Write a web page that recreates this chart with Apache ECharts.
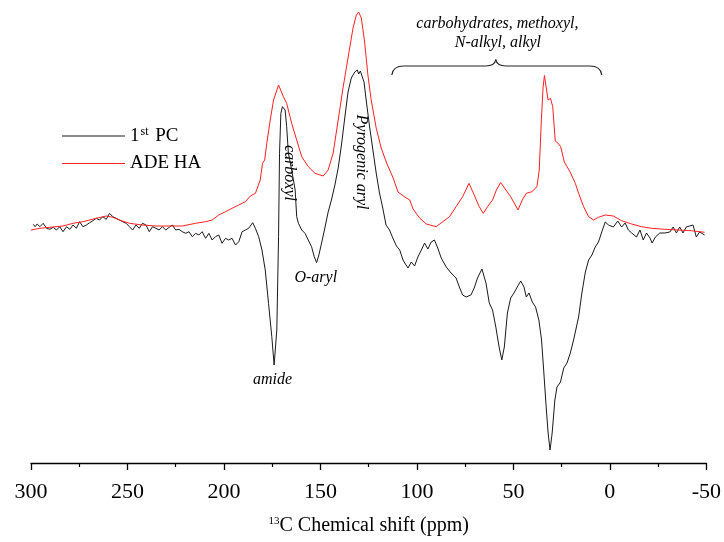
<!DOCTYPE html>
<html>
<head>
<meta charset="utf-8">
<script src="https://cdn.jsdelivr.net/npm/echarts@6/dist/echarts.min.js"></script>
<style>
  html, body { margin: 0; padding: 0; background: #ffffff; }
  #chart { width: 724px; height: 542px; }
</style>
</head>
<body>
<div id="chart"></div>
<script>
// ---- Data (x: 13C chemical shift, ppm; y: relative intensity) ----
const pcShift = [
  298.8,297.9,296.8,295.4,293.7,291.9,290.2,288.5,286.8,285.1,
  283.4,281.6,279.9,278.2,276.5,274.8,273.1,271.3,269.6,267.9,
  266.2,264.5,262.8,261.0,259.3,257.6,255.9,254.2,252.5,250.7,
  249.0,247.3,245.6,243.9,242.2,240.4,238.7,237.0,235.3,233.6,
  231.9,230.1,228.4,226.7,225.0,223.3,221.6,219.8,218.1,216.4,
  214.7,213.0,211.3,209.5,207.8,206.1,204.4,202.7,201.0,199.2,
  197.5,195.8,194.0,192.3,190.6,188.9,187.2,185.1,183.7,182.0,
  180.3,178.6,176.9,175.2,174.0,172.6,171.7,171.2,170.5,169.7,
  168.3,167.5,166.6,164.9,163.1,162.3,161.4,159.7,158.0,156.3,
  154.6,153.2,152.0,150.8,149.4,147.7,146.0,144.3,142.5,140.8,
  139.1,137.4,135.7,134.0,132.2,130.9,130.2,129.3,128.3,127.4,
  126.3,124.5,122.8,121.1,119.4,117.7,116.0,114.2,112.5,110.6,
  108.9,107.2,106.3,104.6,102.9,101.2,99.5,97.7,96.0,94.3,
  92.6,90.9,89.2,87.4,84.8,82.3,79.7,78.0,76.3,74.5,
  72.0,70.3,68.6,66.3,64.2,62.5,60.8,59.1,57.4,56.0,
  54.7,53.1,51.4,49.7,48.0,46.2,44.5,43.3,41.9,40.2,
  38.5,36.8,35.4,34.2,33.0,32.0,31.0,29.9,28.5,27.4,
  25.6,23.9,22.2,20.5,18.8,16.2,14.5,12.7,11.0,9.3,
  7.6,5.9,4.2,2.4,0.7,-1.8,-4.1,-6.1,-7.9,-9.6,
  -11.3,-13.8,-15.6,-17.3,-19.0,-20.8,-21.9,-23.6,-25.9,-28.5,
  -31.1,-32.8,-34.5,-36.2,-37.9,-39.6,-41.4,-43.1,-44.8,-46.5,-49.1
];
const pcIntensity = [
  5.7,3.3,6,3.3,6.7,1.7,0.7,2.7,0,3.3,
  -1.7,3.3,0.7,5,1.7,8.3,3.3,5,7.3,9.3,
  11.7,10,13.3,10.7,16.7,13.3,11.7,10,8.3,6.7,
  3.3,0,5,1.7,6.7,5,-1.7,3.3,1.7,0,
  3.3,0,2.7,5,0,0.7,-1.7,-3.3,-1.7,-6.7,
  -3.3,-5,-1.7,-8.3,-3.3,-10,-6.7,-5,-13.3,-8.3,
  -10,-8.3,-15,-11.7,-1.7,0,1.7,7.3,1.7,-6.7,
  -20,-40,-73.3,-106.7,-135,-100,-6.7,76.7,116.7,123.3,
  120,103.3,76.7,60,40,13.3,6.7,0,-3.3,-10,
  -16.7,-26.7,-32.7,-25,-13,2,18,30,45,62,
  85,112,138,152,158,160,156,159,153,148,
  130,103,80,57,37,22,5,0,-8,-16,
  -20,-30,-33,-38,-32,-36,-27,-20,-13,-19,
  -12,-10,-18,-28,-37,-43,-48,-57,-65,-67,
  -65,-58,-48,-39,-53,-73,-80,-97,-117,-130,
  -117,-83,-68,-63,-57,-51,-57,-67,-63,-72,
  -77,-90,-110,-143,-177,-203,-220,-203,-170,-157,
  -152,-138,-133,-123,-110,-87,-63,-42,-30,-25,
  -17,-12,-2,8,5,3,9,3,7,0,
  -3,-7,0,-10,-3,-8,-13,-7,-3,-3,
  -2,3,-3,3,-3,3,4,5,-7,-2,-5
];
const haShift = [
  300,295.4,290.2,283.4,278.2,273.1,266.2,261.0,257.6,254.2,
  249.0,242.2,235.3,228.4,221.6,214.7,209.5,206.1,202.7,199.2,
  195.8,192.3,188.9,186.3,183.7,181.2,180.0,178.9,177.8,176.0,
  174.3,171.7,169.2,167.5,164.9,162.3,159.7,156.3,152.8,148.6,
  146.0,143.4,140.8,138.3,135.7,133.1,131.4,130.2,128.8,127.1,
  125.4,123.7,121.1,118.5,115.7,112.3,109.8,106.3,103.7,102.0,
  98.6,95.1,90.0,86.6,83.1,79.7,76.3,73.0,70.3,67.7,
  65.6,63.4,60.8,58.8,56.6,53.9,51.4,47.6,45.4,43.3,
  40.4,37.8,36.6,35.5,34.6,33.9,32.8,32.0,30.8,29.6,
  28.3,26.8,25.5,23.6,22.2,20.6,17.9,16.2,13.6,11.0,
  8.5,5.9,2.4,-1.8,-6.1,-11.3,-16.4,-21.6,-28.5,-35.3,-42.2,-49.1
];
const haIntensity = [
  0,1.7,2.7,4,6.7,8.3,11.7,14,12.7,10,
  6.7,5,4,4,4,6.7,8.3,10,15,18.3,
  21.7,25,28.3,34,36.7,50,66.7,70,86.7,110,
  130,145,133.3,126.7,106.7,90,73.3,63.3,56.7,54,
  60,77,110,142,172,202,215,218,212,188,
  155,130,102,82,67,52,38,33,30,21,
  12,6,3.3,8.3,13.3,23.3,33.3,46.7,35,23.3,
  16.7,23.3,30,40,47.5,40,33.3,20,30,36.7,
  38.3,43.3,60,110,143,154.5,140,130,131.7,123.3,
  89,86.7,83.3,68,63.3,58,46.7,36.7,23.3,13.3,
  10,12.7,15,14,9.3,6,3.3,1.7,0.7,0,-0.7,-2.3
];
const seriesNames = ['1st PC', 'ADE HA'];
const xTicks = { min: -50, max: 300, interval: 50 };

// Annotations: label, anchor shift (ppm), anchor intensity, rotated?
const annoLabels = ['carboxyl', 'Pyrogenic aryl', 'O-aryl', 'amide', 'carbohydrates, methoxyl,', 'N-alkyl, alkyl'];
const annoShift  = [166.1, 129.1, 152.4, 174.8, 58.3, 58.0];
const annoLevel  = [57, 68, -48, -150, 206, 187];
const annoRotate = [true, true, false, false, false, false];
// Brace spanning the aliphatic region (ppm) and its levels (end, bar, tip)
const braceShift = [113, 59.1, 4.2];
const braceLevel = [155, 164, 170.5];

const serif = '"Liberation Serif", "Times New Roman", serif';
const chart = echarts.init(document.getElementById('chart'), null, { renderer: 'canvas' });

const pcData = pcShift.map((s, i) => [s, pcIntensity[i]]);
const haData = haShift.map((s, i) => [s, haIntensity[i]]);

chart.setOption({
  animation: false,
  backgroundColor: '#ffffff',
  grid: { left: 31, right: 13.5, top: 5, bottom: 79, containLabel: false },
  legend: {
    orient: 'vertical',
    left: 57,
    top: 121,
    icon: 'rect',
    itemWidth: 63,
    itemHeight: 1.2,
    itemGap: 8.5,
    data: seriesNames,
    formatter: n => n === '1st PC' ? '1{sup|st} PC' : n,
    textStyle: {
      fontFamily: serif, fontSize: 19, color: '#000',
      padding: [0, 0, 0, 0],
      rich: { sup: { fontFamily: serif, fontSize: 12, color: '#000', verticalAlign: 'top', padding: [0, 2, 8, 1] } }
    }
  },
  xAxis: {
    type: 'value',
    inverse: true,
    min: xTicks.min, max: xTicks.max, interval: xTicks.interval,
    axisLine: { show: true, onZero: false, lineStyle: { color: '#000', width: 1.3 } },
    axisTick: { show: true, length: 7, lineStyle: { color: '#000', width: 1.3 } },
    minorTick: { show: true, splitNumber: 2, length: 4, lineStyle: { color: '#000', width: 1.2 } },
    splitLine: { show: false },
    axisLabel: { fontFamily: serif, fontSize: 22, color: '#000', margin: 18, showMinLabel: true, showMaxLabel: true },
    name: '{sup|13}C Chemical shift (ppm)',
    nameLocation: 'middle',
    nameGap: 53,
    nameTextStyle: {
      fontFamily: serif, fontSize: 20, color: '#000',
      rich: { sup: { fontFamily: serif, fontSize: 11, color: '#000', verticalAlign: 'top', padding: [0, 0, 8, 0] } }
    }
  },
  yAxis: { type: 'value', show: false, min: -233, max: 225 },
  series: [
    { name: seriesNames[0], type: 'line', data: pcData, symbol: 'none', smooth: false,
      lineStyle: { color: '#1a1a1a', width: 1 }, itemStyle: { color: '#1a1a1a' } },
    { name: seriesNames[1], type: 'line', data: haData, symbol: 'none', smooth: false,
      lineStyle: { color: '#ff2020', width: 1 }, itemStyle: { color: '#ff2020' } }
  ]
});

function toPx(shift, level) {
  return chart.convertToPixel({ xAxisIndex: 0, yAxisIndex: 0 }, [shift, level]);
}

const graphics = annoLabels.map((t, i) => {
  const p = toPx(annoShift[i], annoLevel[i]);
  return {
    type: 'text', x: p[0], y: p[1],
    rotation: annoRotate[i] ? -Math.PI / 2 : 0,
    style: { text: t, font: 'italic 16px ' + serif, fill: '#000', align: 'center', verticalAlign: 'middle' },
    silent: true
  };
});

// Curly brace built from ECharts graphic primitives
const xl = toPx(braceShift[0], 0)[0];
const xm = toPx(braceShift[1], 0)[0];
const xr = toPx(braceShift[2], 0)[0];
const yEnd = toPx(0, braceLevel[0])[1];
const yBar = toPx(0, braceLevel[1])[1];
const yTip = toPx(0, braceLevel[2])[1];
const bStyle = { stroke: '#222', lineWidth: 1.2, fill: null };
const braceParts = [
  { type: 'bezierCurve', shape: { x1: xl, y1: yEnd, cpx1: xl + 1, cpy1: yBar, x2: xl + 12, y2: yBar } },
  { type: 'line', shape: { x1: xl + 12, y1: yBar, x2: xm - 10, y2: yBar } },
  { type: 'bezierCurve', shape: { x1: xm - 10, y1: yBar, cpx1: xm - 1, cpy1: yBar, x2: xm, y2: yTip } },
  { type: 'bezierCurve', shape: { x1: xm, y1: yTip, cpx1: xm + 1, cpy1: yBar, x2: xm + 10, y2: yBar } },
  { type: 'line', shape: { x1: xm + 10, y1: yBar, x2: xr - 12, y2: yBar } },
  { type: 'bezierCurve', shape: { x1: xr - 12, y1: yBar, cpx1: xr - 1, cpy1: yBar, x2: xr, y2: yEnd } }
];
braceParts.forEach(p => { p.style = bStyle; p.silent = true; graphics.push(p); });

chart.setOption({ graphic: graphics });
</script>
</body>
</html>
